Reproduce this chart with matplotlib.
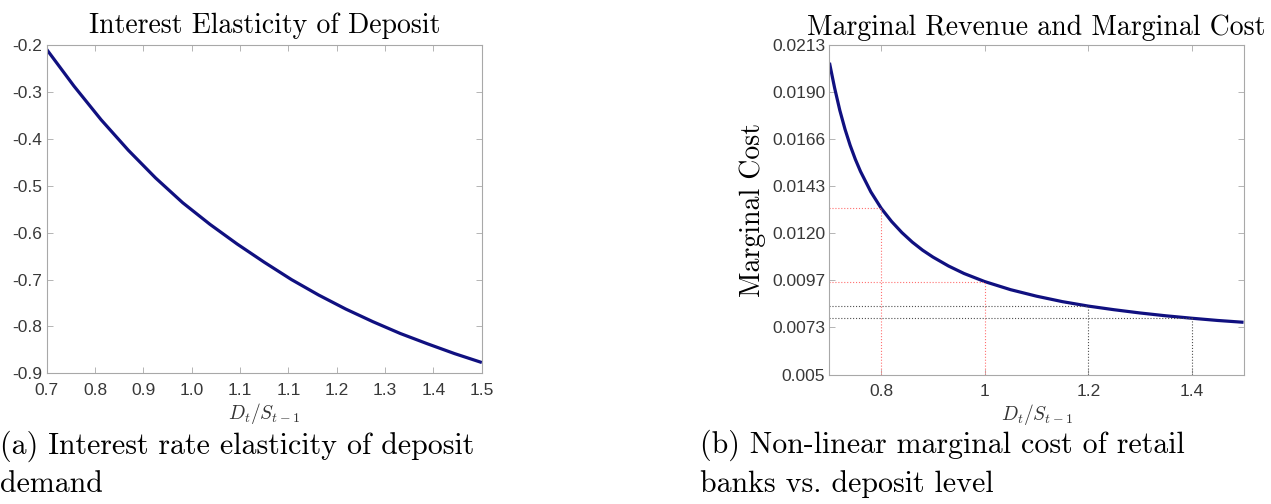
import numpy as np
import matplotlib
matplotlib.use("Agg")
import matplotlib.pyplot as plt

plt.rcParams['font.family'] = ['Liberation Sans', 'DejaVu Sans']
plt.rcParams['mathtext.fontset'] = 'cm'
plt.rcParams['axes.unicode_minus'] = False

# ---- (a) interest elasticity of deposit demand ----
ratio_a = [0.70, 0.75, 0.80, 0.85, 0.90, 0.95, 1.00, 1.05, 1.10,
           1.15, 1.20, 1.25, 1.30, 1.35, 1.40, 1.45, 1.50]
elasticity = [-0.209, -0.287, -0.359, -0.424, -0.483, -0.536, -0.582, -0.624, -0.663,
              -0.700, -0.733, -0.763, -0.790, -0.815, -0.837, -0.858, -0.877]
xtick_labels_a = ['0.7', '0.8', '0.9', '1.0', '1.1', '1.1', '1.2', '1.3', '1.4', '1.5']
yticks_a = [-0.9, -0.8, -0.7, -0.6, -0.5, -0.4, -0.3, -0.2]

# ---- (b) marginal cost vs deposit level ----
ratio_b = [0.70, 0.71, 0.72, 0.73, 0.74, 0.75, 0.76, 0.78, 0.80, 0.82, 0.84, 0.86,
           0.88, 0.90, 0.93, 0.96, 1.00, 1.05, 1.10, 1.15, 1.20, 1.25, 1.30, 1.35,
           1.40, 1.45, 1.50]
marginal_cost = [0.02040, 0.01915, 0.01805, 0.01712, 0.01632, 0.01563, 0.01503, 0.01402,
                 0.01321, 0.01256, 0.01201, 0.01154, 0.01114, 0.01080, 0.01036, 0.00999,
                 0.00959, 0.00919, 0.00887, 0.00860, 0.00838, 0.00820, 0.00804, 0.00790,
                 0.00778, 0.00767, 0.00758]
marked_red = [0.8, 1.0]
marked_black = [1.2, 1.4]
ytick_labels_b = ['0.005', '0.0073', '0.0097', '0.0120', '0.0143', '0.0166', '0.0190', '0.0213']
xticks_b = [0.8, 1.0, 1.2, 1.4]
xtick_labels_b = ['0.8', '1', '1.2', '1.4']

caption_a = "(a) Interest rate elasticity of deposit\ndemand"
caption_b = "(b) Non-linear marginal cost of retail\nbanks vs. deposit level"

line_col = '#101080'
box_col = '#a8a8a8'
txt_col = '#383838'
serif = 'cmr10'

fig = plt.figure(figsize=(12.71, 5.04), dpi=100)
ax1 = fig.add_axes([0.0368, 0.2593, 0.3423, 0.6508])
ax2 = fig.add_axes([0.6526, 0.2569, 0.3258, 0.6548])


def style(ax):
    for s in ax.spines.values():
        s.set_color(box_col)
        s.set_linewidth(0.8)
    ax.tick_params(direction='in', length=4, width=0.6, color=box_col,
                   top=True, right=True, labelsize=12.5, labelcolor=txt_col)
    ax.tick_params(axis='x', pad=7)
    ax.tick_params(axis='y', pad=3)


# (a)
ax1.plot(ratio_a, elasticity, color=line_col, linewidth=2.3, solid_capstyle='butt')
ax1.set_xlim(0.7, 1.5)
ax1.set_ylim(-0.9, -0.2)
ax1.set_xticks(np.linspace(0.7, 1.5, len(xtick_labels_a)))
ax1.set_xticklabels(xtick_labels_a)
ax1.set_yticks(yticks_a)
ax1.set_yticklabels([f'{v:.1f}' for v in yticks_a])
ax1.set_title('Interest Elasticity of Deposit', family=serif, fontsize=20, pad=9)
ax1.set_xlabel(r'$D_t/S_{t-1}$', fontsize=14, labelpad=2, color='#333333')
style(ax1)

# (b)
ax2.plot(ratio_b, marginal_cost, color=line_col, linewidth=2.3, solid_capstyle='butt')
y_lo = 0.005
for xs, col in [(marked_red, '#ff7070'), (marked_black, '#505050')]:
    for xv in xs:
        yv = marginal_cost[ratio_b.index(xv)]
        ax2.plot([xv, xv], [y_lo, yv], linestyle=':', color=col, linewidth=0.8)
        ax2.plot([0.7, xv], [yv, yv], linestyle=':', color=col, linewidth=0.8)
ax2.set_xlim(0.7, 1.5)
ax2.set_ylim(0.005, 0.0213)
ax2.set_yticks(np.linspace(0.005, 0.0213, len(ytick_labels_b)))
ax2.set_yticklabels(ytick_labels_b)
ax2.set_xticks(xticks_b)
ax2.set_xticklabels(xtick_labels_b)
ax2.set_title('Marginal Revenue and Marginal Cost', family=serif, fontsize=20, pad=7)
ax2.set_xlabel(r'$D_t/S_{t-1}$', fontsize=14, labelpad=2, color='#333333')
ax2.set_ylabel('Marginal Cost', family=serif, fontsize=20, labelpad=4)
style(ax2)

fig.text(0.0, 0.012, caption_a, family=serif, fontsize=21.5, ha='left', va='bottom',
         linespacing=1.4)
fig.text(0.551, 0.012, caption_b, family=serif, fontsize=21.5, ha='left', va='bottom',
         linespacing=1.4)

fig.savefig('out.png', dpi=100)
